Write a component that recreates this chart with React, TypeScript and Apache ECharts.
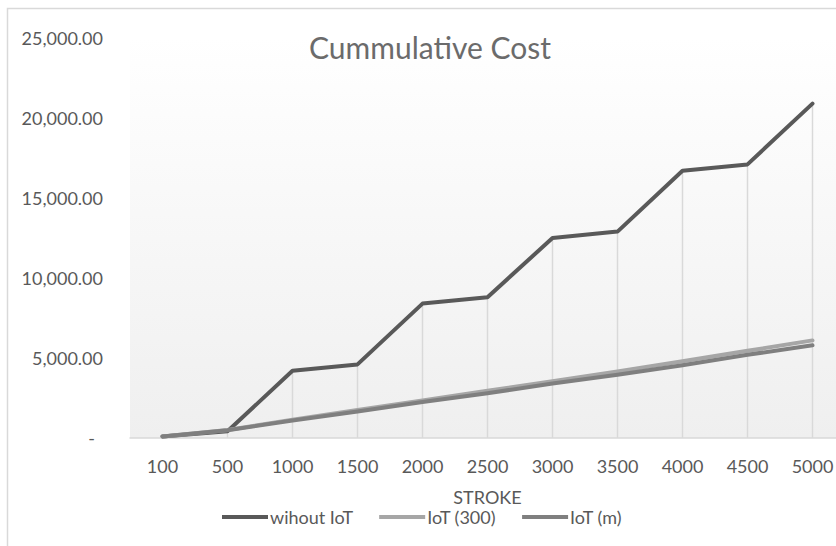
import React, { useEffect, useRef } from "react";
import * as echarts from "echarts";

const categories = ["100", "500", "1000", "1500", "2000", "2500", "3000", "3500", "4000", "4500", "5000"];
const withoutIoT = [100, 420, 4200, 4600, 8400, 8800, 12500, 12900, 16700, 17100, 20900];
const iot300 = [100, 500, 1150, 1750, 2350, 2950, 3550, 4150, 4800, 5450, 6100];
const iotM = [100, 480, 1100, 1650, 2250, 2800, 3400, 3950, 4550, 5200, 5800];
const seriesNames = ["wihout IoT", "IoT (300)", "IoT (m)"];
const seriesColors = ["#595959", "#a6a6a6", "#7f7f7f"];
const titleText = "Cummulative Cost";
const xAxisName = "STROKE";

const FONT = "Lato, 'Open Sans', sans-serif";

export default function App() {
  const ref = useRef<HTMLDivElement>(null);
  useEffect(() => {
    if (!ref.current) return;
    const chart = echarts.init(ref.current, undefined, { renderer: "svg" });
    const dropValues = categories.map((_, i) => Math.max(withoutIoT[i], iot300[i], iotM[i]));
    const seriesData = [withoutIoT, iot300, iotM];
    chart.setOption({
      animation: false,
      backgroundColor: "#ffffff",
      textStyle: { fontFamily: FONT },
      title: {
        text: titleText,
        left: 425,
        textAlign: "center",
        top: 27,
        textStyle: { fontFamily: FONT, fontSize: 30, fontWeight: "normal", color: "#6b6b6b" },
      },
      graphic: [
        {
          type: "rect",
          shape: { x: 7.5, y: 8.5, width: 900, height: 600 },
          style: { fill: "none", stroke: "#d9d9d9", lineWidth: 1.5 },
          silent: true,
          z: 100,
        },
      ],
      legend: {
        data: seriesNames.map((n, i) => ({ name: n, icon: "rect", itemStyle: { color: seriesColors[i] } })),
        left: 217,
        top: 503,
        itemWidth: 46,
        itemHeight: 4,
        itemGap: 26,
        textStyle: { fontFamily: FONT, fontSize: 18, color: "#595959", padding: [0, 0, 0, -3] },
      },
      grid: {
        left: 130,
        right: 5,
        top: 38,
        bottom: 108,
        show: true,
        borderWidth: 0,
        backgroundColor: new echarts.graphic.LinearGradient(0, 0, 0, 1, [
          { offset: 0, color: "#ffffff" },
          { offset: 1, color: "#efefef" },
        ]),
      },
      xAxis: {
        type: "category",
        data: categories,
        boundaryGap: true,
        name: xAxisName,
        nameLocation: "middle",
        nameGap: 50,
        nameTextStyle: { fontFamily: FONT, fontSize: 18, color: "#595959" },
        axisLine: { show: true, lineStyle: { color: "#d9d9d9", width: 1.5 } },
        axisTick: { show: false },
        axisLabel: { fontFamily: FONT, fontSize: 18, color: "#595959", margin: 19 },
        splitLine: { show: false },
      },
      yAxis: {
        type: "value",
        min: 0,
        max: 25000,
        interval: 5000,
        axisLine: { show: false },
        axisTick: { show: false },
        splitLine: { show: false },
        axisLabel: {
          fontFamily: FONT,
          fontSize: 18,
          color: "#595959",
          margin: 27,
          formatter: (v: number) =>
            v === 0
              ? "{dash|-}"
              : v.toLocaleString("en-US", { minimumFractionDigits: 2, maximumFractionDigits: 2 }),
          rich: { dash: { fontFamily: FONT, fontSize: 18, color: "#595959", padding: [0, 8, 0, 0] } },
        },
      },
      series: [
        {
          name: "drop",
          type: "bar",
          data: dropValues,
          barWidth: 1.5,
          itemStyle: { color: "#d9d9d9" },
          silent: true,
          z: 1,
        },
        ...seriesNames.map((n, i) => ({
          name: n,
          type: "line",
          data: seriesData[i],
          symbol: "none",
          z: 2 + i,
          lineStyle: { color: seriesColors[i], width: 4, cap: "round", join: "round" },
          itemStyle: { color: seriesColors[i] },
        })),
      ],
    });
    return () => chart.dispose();
  }, []);
  return (
    <div style={{ position: "absolute", left: 0, top: 0, width: 836, height: 546, overflow: "hidden", background: "#fff" }}>
      <div ref={ref} style={{ width: 850, height: 546 }} />
    </div>
  );
}
